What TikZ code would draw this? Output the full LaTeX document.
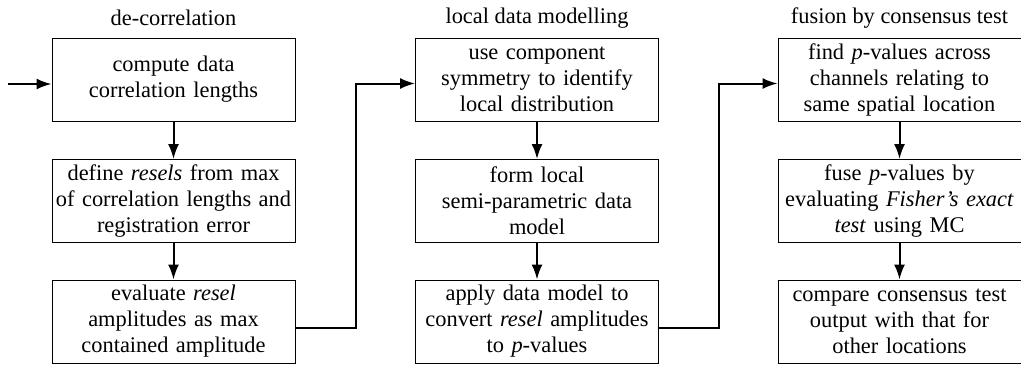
\documentclass[tikz,border=0pt]{standalone}
\usepackage{fontspec}
\setmainfont{Liberation Serif}
\usetikzlibrary{arrows.meta}

\begin{document}
\begin{tikzpicture}[x=0.5pt, y=-0.5pt,
    stage/.style={draw, line width=0.5pt, minimum width=121.5pt, minimum height=41.5pt,
      inner sep=0pt, text width=120pt, align=center, font=\fontsize{11.2}{13}\selectfont},
    heading/.style={font=\fontsize{11.2}{13}\selectfont},
    flow/.style={line width=1pt, -{Latex[length=7.5pt, width=5.5pt]}}]
        \useasboundingbox (0,0) rectangle (1021,365);
        % Column headings
        \node (h1) at (173.5,18) [heading] {de-correlation};
        \node (h2) at (537,18) [heading] {local data modelling};
        \node (h3) at (899.5,18) [heading] {fusion by consensus test};
        % Stages (top to bottom, left to right)
        \node (d1) at (173.5,79.5) [stage] {compute data\\correlation lengths};
        \node (d2) at (173.5,201) [stage] {define \emph{resels} from max\\of correlation lengths and\\registration error};
        \node (d3) at (173.5,321.5) [stage] {evaluate \emph{resel}\\amplitudes as max\\contained amplitude};
        \node (m1) at (537,79.5) [stage] {use component\\symmetry to identify\\local distribution};
        \node (m2) at (537,201) [stage] {form local\\semi-parametric data\\model};
        \node (m3) at (537,321.5) [stage] {apply data model to\\convert \emph{resel} amplitudes\\to \emph{p}-values};
        \node (f1) at (899.5,79.5) [stage] {find \emph{p}-values across\\channels relating to\\same spatial location};
        \node (f2) at (899.5,201) [stage] {fuse \emph{p}-values by\\evaluating \emph{Fisher's exact}\\\emph{test} using MC};
        \node (f3) at (899.5,321.5) [stage] {compare consensus test\\output with that for\\other locations};
        \coordinate (in) at (8,84);
        % Edges
        \draw[flow] (in) -- (d1.west |- in);
        \draw[flow] (d1) -- (d2);
        \draw[flow] (d2) -- (d3);
        \draw[flow] (m1) -- (m2);
        \draw[flow] (m2) -- (m3);
        \draw[flow] (f1) -- (f2);
        \draw[flow] (f2) -- (f3);
        \draw[flow] ([yshift=-3pt]d3.east) -- ++(60,0) |- ([yshift=-2pt]m1.west);
        \draw[flow] ([yshift=-3pt]m3.east) -- ++(60,0) |- ([yshift=-2pt]f1.west);
      \end{tikzpicture}
\end{document}
